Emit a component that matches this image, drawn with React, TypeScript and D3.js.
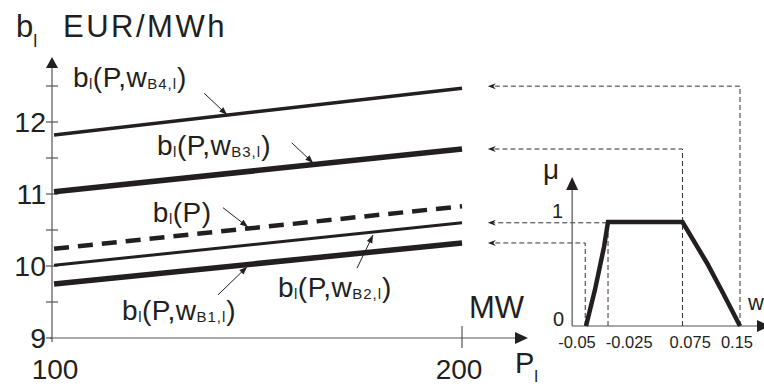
import React from 'react';
import * as d3 from 'd3';

// main chart: price b_l over power P_l
const pDomain = [100, 200];
const seriesKeys = ['B4', 'B3', 'P', 'B2', 'B1'];
const valuesAt100 = [11.82, 11.03, 10.24, 10.01, 9.75];
const valuesAt200 = [12.47, 11.625, 10.83, 10.6, 10.32];
const seriesWidths = [3.5, 5.5, 4.5, 3, 5.5];
const yTickValues = [9, 10, 11, 12];
const yMinorTicks = [9.5, 10.5, 11.5, 12.5];
const xTickValues = [100, 200];

// membership function mu(w)
const muW = [-0.05, -0.0383, -0.0266, -0.0214, 0.0753, 0.1071, 0.1279, 0.15];
const muValues = [0, 0.35, 0.76, 1, 1, 0.606, 0.317, 0];
const wTickValues = [-0.05, -0.025, 0.075, 0.15];
const wTickLabels = ['-0.05', '-0.025', '0.075', '0.15'];

const FONT = 'Liberation Sans, Arial, sans-serif';
const INK = '#231f20';

export default function App() {
  const x = d3.scaleLinear().domain(pDomain).range([52, 462]);
  const y = d3.scaleLinear().domain([9, 12]).range([338, 122]);
  const w = d3.scaleLinear().domain([-0.05, 0.15]).range([586, 740]);
  const mu = d3.scaleLinear().domain([0, 1]).range([326, 222]);

  const line = d3
    .line<[number, number]>()
    .x((d) => x(d[0]))
    .y((d) => y(d[1]));
  const muLine = d3
    .line<number>()
    .x((_, i) => w(muW[i]))
    .y((d) => mu(d));

  const x0 = x.range()[0];
  const y0 = y(9);
  const muX0 = w(-0.068);
  const guideP = 206.3;

  // labels (left, baseline) and pointer arrows, in data units
  const labels = [
    { key: 'B4', p: 105.1, b: 12.486, sub: 'B4,l' },
    { key: 'B3', p: 125.6, b: 11.54, sub: 'B3,l' },
    { key: 'P', p: 124.6, b: 10.61, sub: null },
    { key: 'B2', p: 155.1, b: 9.57, sub: 'B2,l' },
    { key: 'B1', p: 117.1, b: 9.25, sub: 'B1,l' },
  ];
  const pointers = [
    [137.1, 12.4, 142.7, 12.1],
    [158.5, 11.71, 163.7, 11.43],
    [141.7, 10.81, 147.8, 10.54],
    [174.4, 9.97, 178.3, 10.43],
    [140.5, 9.6, 147.6, 9.99],
  ];

  // guides from mu chart back to line ends
  const guides = [
    { wx: 0.15, from: 0, end: valuesAt200[0] },
    { wx: 0.0753, from: 0, end: valuesAt200[1] },
    { wx: -0.0214, from: 0, end: valuesAt200[3] },
    { wx: -0.051, from: 0, end: valuesAt200[4] },
  ];

  const arrowHead = (tx: number, ty: number, dx: number, dy: number, len: number, half: number) => {
    const n = Math.hypot(dx, dy);
    const ux = dx / n;
    const uy = dy / n;
    const bx = tx - ux * len;
    const by = ty - uy * len;
    return `M${tx},${ty}L${bx - uy * half},${by + ux * half}L${bx + uy * half},${by - ux * half}Z`;
  };

  const guideHead = (tx: number, ty: number) =>
    `M${tx},${ty}L${tx + 8},${ty - 3}L${tx + 5.5},${ty}L${tx + 8},${ty + 3}Z`;

  return (
    <svg
      width={764}
      height={386}
      style={{ position: 'absolute', left: 0, top: 0, background: '#fff' }}
      fontFamily={FONT}
      fill={INK}
    >
      {/* title */}
      <text x={16} y={37} fontSize={31}>
        b<tspan fontSize={18} dy={10}>l</tspan>
      </text>
      <text x={63} y={37} fontSize={31} letterSpacing={2.5}>
        EUR/MWh
      </text>

      {/* main axes */}
      <line x1={x0} x2={x0} y1={y0 + 4} y2={64} stroke="#555" strokeWidth={1.2} />
      <path d={arrowHead(x0, 57, 0, -1, 11, 6)} fill={INK} />
      <line x1={x0 - 2} x2={516} y1={y0} y2={y0} stroke="#555" strokeWidth={1.2} />
      <path d={arrowHead(528, y0, 1, 0, 13, 6)} fill={INK} />
      {[...yTickValues, ...yMinorTicks].map((v) => (
        <line key={v} x1={x0 - 6} x2={v === 9 ? x0 : x0 + 6} y1={y(v)} y2={y(v)} stroke="#555" strokeWidth={1.2} />
      ))}
      {yTickValues.map((v) => (
        <text key={v} x={46} y={y(v)} dy="0.34em" fontSize={28.5} textAnchor="end">
          {v}
        </text>
      ))}
      <line x1={x(200)} x2={x(200)} y1={y0 - 12} y2={y0 + 10} stroke="#555" strokeWidth={1.2} />
      {xTickValues.map((v) => (
        <text key={v} x={x(v) + (v === 100 ? 3 : -3)} y={379} fontSize={28} textAnchor="middle">
          {v}
        </text>
      ))}
      <text x={515} y={373} fontSize={29}>
        P<tspan fontSize={17} dy={9}>l</tspan>
      </text>
      <text x={469} y={318} fontSize={31}>
        MW
      </text>

      {/* series */}
      {seriesKeys.map((k, i) => (
        <path
          key={k}
          d={line([
            [pDomain[0] + 0.5, valuesAt100[i]],
            [pDomain[1], valuesAt200[i]],
          ]) ?? ''}
          fill="none"
          stroke={INK}
          strokeWidth={seriesWidths[i]}
          strokeDasharray={k === 'P' ? '15 9' : undefined}
        />
      ))}

      {/* series labels */}
      {labels.map((l) => (
        <text key={l.key} x={x(l.p)} y={y(l.b)} fontSize={28} letterSpacing={0.5}>
          b<tspan fontSize={15} dy={2}>l</tspan>
          <tspan dy={-2}>{l.sub ? '(P,w' : '(P)'}</tspan>
          {l.sub && (
            <>
              <tspan fontSize={15} dy={2} letterSpacing={1}>{l.sub}</tspan>
              <tspan dy={-2}>)</tspan>
            </>
          )}
        </text>
      ))}
      {pointers.map(([p1, b1, p2, b2], i) => {
        const ax = x(p1);
        const ay = y(b1);
        const bx = x(p2);
        const by = y(b2);
        return (
          <g key={i}>
            <line x1={ax} y1={ay} x2={bx} y2={by} stroke={INK} strokeWidth={1} />
            <path d={arrowHead(bx, by, bx - ax, by - ay, 8, 3)} fill={INK} />
          </g>
        );
      })}

      {/* dashed guides */}
      {guides.map((g, i) => {
        const gx = w(g.wx);
        const gy = y(g.end) - (i === 0 ? 2 : 0);
        return (
          <g key={i} stroke="#333" strokeWidth={1} strokeDasharray="5 3" fill="none">
            <path d={`M${gx},${mu(g.from)}V${gy}H${x(guideP) + 6}`} />
            <path d={guideHead(x(guideP), gy)} fill={INK} stroke="none" />
          </g>
        );
      })}

      {/* mu chart */}
      <line x1={muX0} x2={muX0} y1={mu(0)} y2={188} stroke="#555" strokeWidth={1.2} />
      <path d={arrowHead(muX0, 177, 0, -1, 13, 6)} fill={INK} />
      <line x1={muX0} x2={758} y1={mu(0)} y2={mu(0)} stroke="#555" strokeWidth={1.2} />
      <path d={arrowHead(770, mu(0), 1, 0, 13, 6)} fill={INK} />
      <text x={543} y={179} fontSize={28}>
        μ
      </text>
      <text x={564} y={mu(0)} fontSize={20} textAnchor="end">
        0
      </text>
      <text x={563} y={mu(1) - 4} fontSize={20} textAnchor="end">
        1
      </text>
      <text x={748} y={310} fontSize={22}>
        w
      </text>
      {wTickValues.map((v, i) => (
        <text
          key={v}
          x={w(v) + [-9, 24, 8, -3][i]}
          y={348}
          fontSize={16.5}
          textAnchor="middle"
        >
          {wTickLabels[i]}
        </text>
      ))}
      <path d={muLine(muValues) ?? ''} fill="none" stroke={INK} strokeWidth={4.5} strokeLinejoin="miter" />
    </svg>
  );
}
